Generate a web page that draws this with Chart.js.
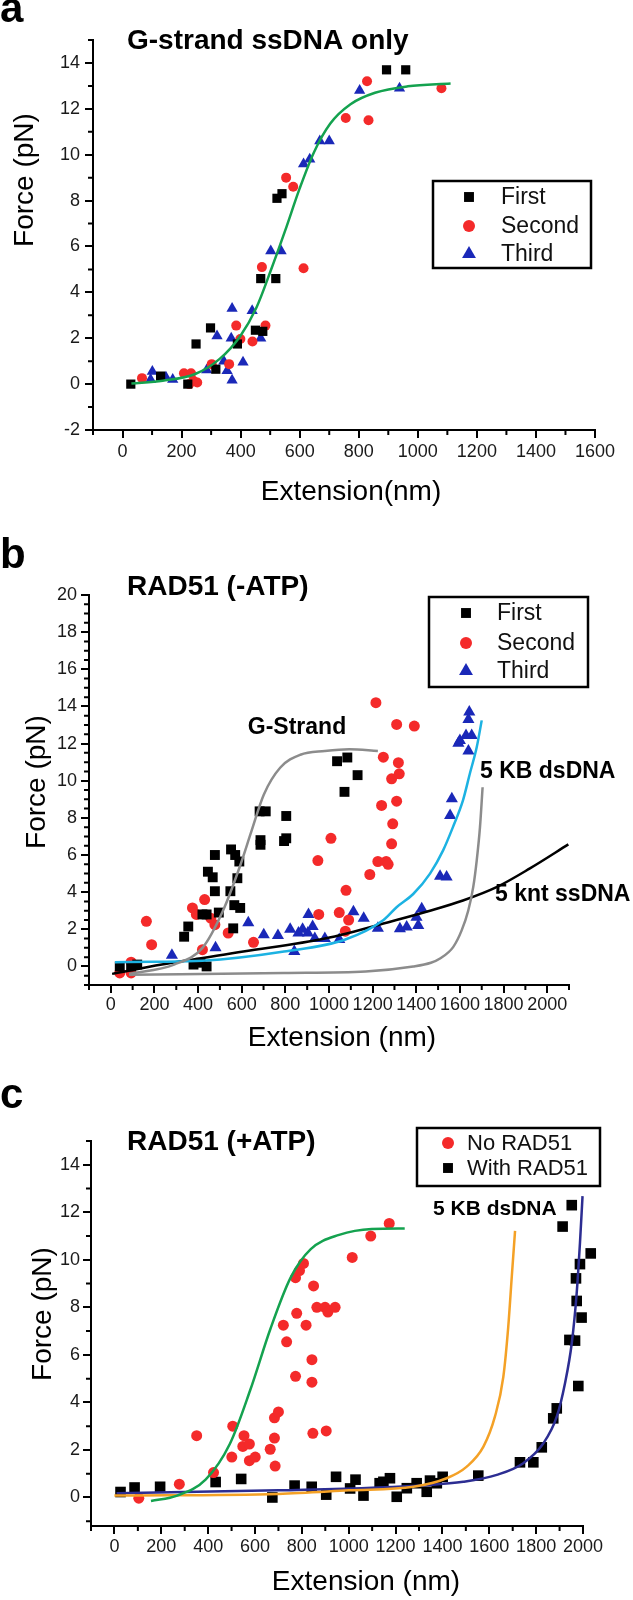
<!DOCTYPE html>
<html>
<head>
<meta charset="utf-8">
<script src="https://cdn.jsdelivr.net/npm/chart.js@4.4.1/dist/chart.umd.min.js"></script>
<style>
  body { margin: 0; background: #fff; }
  #wrap { position: relative; width: 633px; height: 1600px; background: #fff; }
  canvas { position: absolute; left: 0; }
</style>
</head>
<body>
<div id="wrap">
  <canvas id="pa" width="633" height="520" style="top:0px"></canvas>
  <canvas id="pb" width="633" height="540" style="top:520px"></canvas>
  <canvas id="pc" width="633" height="540" style="top:1060px"></canvas>
</div>
<script>
// ---- panel a : G-strand ssDNA only ----
const aFirst = [[28,0],[129,0.35],[221,0],[249,1.75],[298,2.45],[316,0.65],[389,1.75],[450,2.35],[475,2.3],
  [468,4.6],[519,4.6],[523,8.1],[540,8.3],[894,13.7],[959,13.7]];
const aSecond = [[66,0.26],[208,0.47],[232,0.47],[226,0],[240,0.15],[253,0.07],[302,0.87],[361,0.87],[385,2.55],
  [399,1.97],[440,1.86],[484,2.55],[472,5.1],[554,9.0],[578,8.6],[613,5.05],[756,11.6],[833,11.5],[828,13.2],[1080,12.9]];
const aThird = [[101,0.55],[95,0.2],[147,0.3],[170,0.2],[285,0.62],[320,2.1],[343,1.0],[354,0.58],[371,3.3],[368,2.0],
  [371,0.17],[408,0.95],[439,3.2],[468,2.0],[502,5.8],[537,5.8],[613,9.6],[634,9.8],[668,10.6],[700,10.6],[803,12.8],[938,12.9]];
const aFit = [[30,0.03],[136,0.15],[246,0.44],[329,1.1],[399,2.1],[454,3.35],[502,4.95],[551,6.7],[599,8.5],
  [648,10.1],[703,11.35],[772,12.2],[855,12.7],[966,12.98],[1111,13.1]];
const aXTicks = [0,200,400,600,800,1000,1200,1400,1600];
const aYTicks = [-2,0,2,4,6,8,10,12,14];

// ---- panel b : RAD51 (-ATP) ----
const bFirst = [[41,0],[93,0],[121,0.1],[336,1.6],[355,2.15],[379,0.1],[411,0.2],[439,0],[420,2.8],[439,2.8],
  [445,5.1],[467,4.8],[477,6.0],[477,4.05],[495,2.9],[548,4.05],[551,6.3],[561,2.05],[570,6.0],[589,5.65],[580,4.75],
  [566,3.3],[593,3.15],[682,8.35],[710,8.35],[686,6.55],[686,6.8],[794,6.75],[804,6.9],[804,8.1],[1037,11.05],
  [1084,11.25],[1071,9.4],[1131,10.3]];
const bSecond = [[41,-0.35],[93,-0.35],[93,0.23],[163,2.43],[187,1.17],[374,3.15],[392,2.8],[430,3.6],[420,0.9],
  [458,2.6],[477,2.25],[538,1.8],[654,1.3],[949,5.7],[953,2.8],[1009,6.9],[1047,2.9],[1078,4.1],[1090,2.5],[1075,1.9],
  [1187,4.95],[1215,14.2],[1224,5.65],[1262,5.65],[1271,5.5],[1241,8.67],[1249,11.27],[1287,10.1],[1310,13.03],
  [1318,10.97],[1322,10.37],[1310,8.9],[1292,7.68],[1287,6.6],[1391,12.94]];
const bThird = [[280,0.6],[480,1.0],[630,2.35],[701,1.7],[766,1.67],[822,2.0],[841,0.8],[860,1.8],[879,2.0],[906,2.8],
  [903,1.8],[925,2.15],[935,1.5],[981,1.5],[1047,1.45],[1112,2.95],[1159,2.6],[1224,2.05],[1325,2.03],[1356,2.12],
  [1401,2.65],[1409,2.2],[1425,3.1],[1509,4.85],[1539,4.81],[1555,8.13],[1563,9.03],[1593,12.02],[1600,12.17],
  [1628,12.44],[1639,11.6],[1654,12.44],[1639,13.3],[1643,13.7]];
const bGStrand = [[84,-0.4],[290,0.1],[420,1.0],[514,3.0],[589,5.3],[645,7.3],[701,9.25],[776,10.7],[869,11.4],
  [981,11.6],[1093,11.7],[1224,11.6]];
const bDsDNA = [[84,-0.45],[794,-0.35],[1168,-0.27],[1386,0.0],[1467,0.2],[1509,0.43],[1569,1.04],[1608,1.94],
  [1638,3.0],[1661,4.27],[1677,5.7],[1692,7.5],[1704,9.65]];
const bFitThird = [[19,0.23],[200,0.25],[420,0.3],[794,0.8],[1075,1.45],[1250,2.5],[1311,3.2],[1386,3.9],[1463,5.0],
  [1523,6.25],[1568,7.5],[1614,8.94],[1646,10.4],[1677,11.8],[1700,13.25]];
const bSsDNA = [[6,-0.4],[234,0.1],[607,0.8],[981,1.5],[1309,2.5],[1463,3.0],[1614,3.55],[1768,4.27],[1921,5.28],[2097,6.57]];
const bXTicks = [0,200,400,600,800,1000,1200,1400,1600,1800,2000];
const bYTicks = [0,2,4,6,8,10,12,14,16,18,20];

// ---- panel c : RAD51 (+ATP) ----
const cNoRad = [[104,-0.03],[277,0.56],[351,2.6],[423,1.05],[505,3.0],[501,1.7],[553,2.6],[548,2.15],[576,2.25],
  [576,1.55],[601,1.7],[665,2.03],[683,2.5],[683,3.35],[700,3.6],[686,1.32],[721,7.25],[735,6.55],[778,7.75],[773,5.1],
  [773,9.25],[790,9.55],[807,9.85],[818,7.25],[850,8.9],[864,8.0],[843,5.8],[843,4.85],[847,2.7],[899,8.0],[911,7.8],
  [942,8.0],[904,2.8],[1015,10.1],[1094,11.0],[1173,11.53]];
const cWithRad = [[26,0.23],[86,0.42],[195,0.45],[432,0.65],[541,0.78],[674,0],[769,0.5],[842,0.45],[904,0.12],
  [946,0.87],[1006,0.38],[1029,0.75],[1063,0.08],[1132,0.6],[1148,0.66],[1176,0.81],[1205,0.03],[1248,0.39],[1290,0.6],
  [1333,0.24],[1347,0.71],[1376,0.6],[1401,0.87],[1553,0.92],[1731,1.48],[1788,1.48],[1824,2.11],[1873,3.33],
  [1888,3.75],[1913,11.4],[1952,12.3],[1942,6.63],[1966,6.6],[1973,8.27],[1970,9.22],[1987,9.82],[1994,7.57],
  [1980,4.69],[2033,10.27]];
const cFitNo = [[156,-0.15],[268,0.08],[389,0.75],[493,2.26],[579,4.5],[666,7.1],[752,9.25],[838,10.45],[959,11.05],
  [1098,11.3],[1239,11.32]];
const cDsDNA = [[0,0.08],[700,0.15],[1000,0.3],[1276,0.45],[1418,0.81],[1504,1.3],[1575,2.14],[1624,3.4],[1660,5.08],
  [1681,7.19],[1696,9.29],[1710,11.22]];
const cFitWith = [[9,0.18],[700,0.3],[1347,0.53],[1489,0.66],[1632,0.95],[1745,1.44],[1831,2.28],[1888,3.4],
  [1923,4.8],[1952,6.49],[1973,8.59],[1987,10.7],[1998,12.68]];
const cXTicks = [0,200,400,600,800,1000,1200,1400,1600,1800,2000];
const cYTicks = [0,2,4,6,8,10,12,14];

const SANS = '"Liberation Sans", Arial, Helvetica, sans-serif';
const NARROW = '"Liberation Sans Narrow", "Arial Narrow", "Liberation Sans", sans-serif';
const RED = '#f42a2a', BLUE = '#1a28b8', BLACK = '#000000';

const pts = a => a.map(p => ({ x: p[0], y: p[1] }));
const steps = (from, to, step) => { const r = []; for (let v = from; v <= to + 1e-9; v += step) r.push(Math.round(v * 100) / 100); return r; };

// hover radius is kept large so points sitting just past the axis end still get drawn
function marks(label, data, style, color, r) {
  return { label, data: pts(data), pointStyle: style, pointRadius: r, pointHoverRadius: r + 6,
    backgroundColor: color, borderColor: color, borderWidth: 0, showLine: false, clip: false };
}
function curve(data, color) {
  return { data: pts(data), showLine: true, pointRadius: 0, pointHoverRadius: 0, borderColor: color,
    borderWidth: 2.5, cubicInterpolationMode: 'monotone', fill: false, clip: false };
}

function drawMark(ctx, style, x, y, r, color) {
  ctx.fillStyle = color;
  ctx.beginPath();
  if (style === 'circle') ctx.arc(x, y, r, 0, Math.PI * 2);
  else if (style === 'rect') { const s = r * Math.SQRT1_2; ctx.rect(x - s, y - s, 2 * s, 2 * s); }
  else { ctx.moveTo(x, y - r); ctx.lineTo(x + r * 0.866, y + r / 2); ctx.lineTo(x - r * 0.866, y + r / 2); ctx.closePath(); }
  ctx.fill();
}

// minor ticks, labels and the boxed legend
function decor(spec) {
  return {
    id: 'decor',
    afterDraw(chart) {
      const ctx = chart.ctx, xs = chart.scales.x, ys = chart.scales.y;
      ctx.save();
      ctx.strokeStyle = '#000';
      ctx.lineWidth = 2;
      ctx.beginPath();
      spec.xMinor.forEach(v => { const p = xs.getPixelForValue(v); ctx.moveTo(p, xs.top); ctx.lineTo(p, xs.top + 5); });
      spec.yMinor.forEach(v => { const p = ys.getPixelForValue(v); ctx.moveTo(ys.right, p); ctx.lineTo(ys.right - 5, p); });
      ctx.stroke();

      ctx.fillStyle = '#000';
      spec.texts.forEach(t => {
        ctx.font = t.font;
        ctx.textAlign = t.align || 'left';
        ctx.textBaseline = t.base || 'middle';
        if (t.rot) {
          ctx.save(); ctx.translate(t.x, t.y); ctx.rotate(-Math.PI / 2);
          ctx.fillText(t.t, 0, 0); ctx.restore();
        } else ctx.fillText(t.t, t.x, t.y);
      });

      const lg = spec.legend;
      ctx.lineWidth = 2.5;
      ctx.strokeRect(lg.box[0], lg.box[1], lg.box[2], lg.box[3]);
      ctx.font = lg.font;
      ctx.textAlign = 'left';
      ctx.textBaseline = 'middle';
      lg.items.forEach(it => {
        drawMark(ctx, it.style, lg.mx, it.y, it.r, it.color);
        ctx.fillStyle = '#111';
        ctx.fillText(it.label, lg.tx, it.y + 1);
      });
      ctx.restore();
    }
  };
}

function panel(id, datasets, ax, spec) {
  const tickFont = { family: NARROW, size: 18 };
  new Chart(document.getElementById(id), {
    type: 'scatter',
    data: { datasets },
    options: {
      responsive: false, animation: false, devicePixelRatio: 1,
      layout: { padding: { left: 0, top: ax.top, right: ax.right, bottom: 0 } },
      plugins: { legend: { display: false }, tooltip: { enabled: false }, title: { display: false } },
      scales: {
        x: {
          type: 'linear', min: ax.xmin, max: ax.xmax,
          afterFit: s => { s.height = ax.xh; },
          afterBuildTicks: s => { s.ticks = ax.xt.map(v => ({ value: v })); },
          grid: { display: true, drawOnChartArea: false, drawTicks: true, tickLength: 8, tickWidth: 2, lineWidth: 2, tickColor: '#000' },
          border: { display: true, color: '#000', width: 2 },
          ticks: { padding: ax.xpad, color: '#1a1a1a', font: tickFont, maxRotation: 0, autoSkip: false, callback: v => String(v) }
        },
        y: {
          type: 'linear', min: ax.ymin, max: ax.ymax,
          afterFit: s => { s.width = ax.yw; },
          afterBuildTicks: s => { s.ticks = ax.yt.map(v => ({ value: v })); },
          grid: { display: true, drawOnChartArea: false, drawTicks: true, tickLength: 8, tickWidth: 2, lineWidth: 2, tickColor: '#000' },
          border: { display: true, color: '#000', width: 2 },
          ticks: { padding: ax.ypad, color: '#1a1a1a', font: tickFont, autoSkip: false, callback: v => String(v) }
        }
      }
    },
    plugins: [decor(spec)]
  });
}

const bold = s => 'bold ' + s + 'px ' + SANS;
const reg = s => s + 'px ' + SANS;

// panel a
panel('pa', [
  curve(aFit, '#14a24f'),
  marks('First', aFirst, 'rect', BLACK, 6.5),
  marks('Second', aSecond, 'circle', RED, 5),
  marks('Third', aThird, 'triangle', BLUE, 6.5)
], { xmin: -100, xmax: 1600, ymin: -2, ymax: 15, xt: aXTicks, yt: aYTicks,
     top: 40, right: 38, yw: 93, xh: 90, xpad: 3, ypad: 5 },
{
  xMinor: steps(-100, 1500, 200), yMinor: steps(-1, 15, 2),
  texts: [
    { t: 'a', x: 0, y: 22, font: bold(42), base: 'alphabetic' },
    { t: 'G-strand ssDNA only', x: 127, y: 49, font: bold(28), base: 'alphabetic' },
    { t: 'Force (pN)', x: 25, y: 180, font: reg(28), align: 'center', rot: true },
    { t: 'Extension(nm)', x: 351, y: 492, font: reg(28), align: 'center' }
  ],
  legend: { box: [433, 181, 158, 87], mx: 469, tx: 501, font: reg(23), items: [
    { label: 'First', style: 'rect', color: BLACK, r: 7, y: 197 },
    { label: 'Second', style: 'circle', color: RED, r: 6, y: 226 },
    { label: 'Third', style: 'triangle', color: BLUE, r: 8, y: 254 }
  ] }
});

// panel b
panel('pb', [
  curve(bGStrand, '#8c8c8c'),
  curve(bDsDNA, '#8c8c8c'),
  curve(bFitThird, '#1cb2e2'),
  curve(bSsDNA, '#000000'),
  marks('First', bFirst, 'rect', BLACK, 7),
  marks('Second', bSecond, 'circle', RED, 5.5),
  marks('Third', bThird, 'triangle', BLUE, 7)
], { xmin: -100, xmax: 2100, ymin: -1, ymax: 20, xt: bXTicks, yt: bYTicks,
     top: 75, right: 64, yw: 89, xh: 75, xpad: 1, ypad: 4 },
{
  xMinor: steps(-100, 2100, 200), yMinor: steps(-1, 20, 0.5).filter(v => v % 2 !== 0),
  texts: [
    { t: 'b', x: 0, y: 48, font: bold(42), base: 'alphabetic' },
    { t: 'RAD51 (-ATP)', x: 127, y: 75, font: bold(28), base: 'alphabetic' },
    { t: 'Force (pN)', x: 37, y: 262, font: reg(28), align: 'center', rot: true },
    { t: 'Extension (nm)', x: 342, y: 518, font: reg(28), align: 'center' },
    { t: 'G-Strand', x: 297, y: 208, font: bold(23), align: 'center' },
    { t: '5 KB dsDNA', x: 480, y: 252, font: bold(23) },
    { t: '5 knt ssDNA', x: 495, y: 375, font: bold(23) }
  ],
  legend: { box: [429, 77, 159, 90], mx: 466, tx: 497, font: reg(23), items: [
    { label: 'First', style: 'rect', color: BLACK, r: 7, y: 93 },
    { label: 'Second', style: 'circle', color: RED, r: 6, y: 123 },
    { label: 'Third', style: 'triangle', color: BLUE, r: 8, y: 151 }
  ] }
});

// panel c
panel('pc', [
  curve(cFitNo, '#14a24f'),
  curve(cDsDNA, '#f4a126'),
  curve(cFitWith, '#2c2d92'),
  marks('No RAD51', cNoRad, 'circle', RED, 5.5),
  marks('With RAD51', cWithRad, 'rect', BLACK, 7.5)
], { xmin: -100, xmax: 2000, ymin: -1.2, ymax: 15, xt: cXTicks, yt: cYTicks,
     top: 81, right: 50, yw: 91, xh: 74, xpad: 2, ypad: 3 },
{
  xMinor: steps(-100, 1900, 200), yMinor: steps(-1, 15, 2),
  texts: [
    { t: 'c', x: 0, y: 48, font: bold(42), base: 'alphabetic' },
    { t: 'RAD51 (+ATP)', x: 127, y: 90, font: bold(28), base: 'alphabetic' },
    { t: 'Force (pN)', x: 43, y: 254, font: reg(28), align: 'center', rot: true },
    { t: 'Extension (nm)', x: 366, y: 522, font: reg(28), align: 'center' },
    { t: '5 KB dsDNA', x: 433, y: 149, font: bold(21) }
  ],
  legend: { box: [417, 68, 183, 58], mx: 448, tx: 467, font: reg(22), items: [
    { label: 'No RAD51', style: 'circle', color: RED, r: 6, y: 83 },
    { label: 'With RAD51', style: 'rect', color: BLACK, r: 7, y: 108 }
  ] }
});
</script>
</body>
</html>
